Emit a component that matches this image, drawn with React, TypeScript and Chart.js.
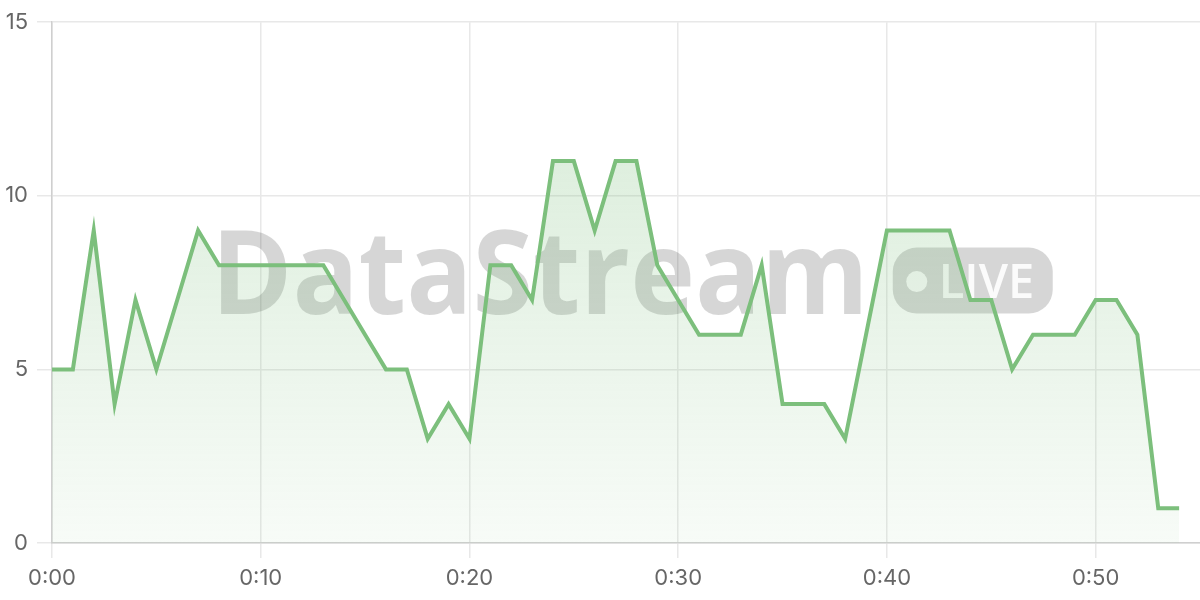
import React, { useEffect, useRef } from 'react';
import { Chart, registerables } from 'chart.js';
import type { Plugin } from 'chart.js';

Chart.register(...registerables);

// minutes since start (0:00 .. 0:54)
const minutes = [
  0, 1, 2, 3, 4, 5, 6, 7, 8, 9, 10, 11, 12, 13, 14, 15, 16, 17, 18, 19, 20,
  21, 22, 23, 24, 25, 26, 27, 28, 29, 30, 31, 32, 33, 34, 35, 36, 37, 38, 39,
  40, 41, 42, 43, 44, 45, 46, 47, 48, 49, 50, 51, 52, 53, 54,
];
const values = [
  5, 5, 9, 4, 7, 5, 7, 9, 8, 8, 8, 8, 8, 8, 7, 6, 5, 5, 3, 4, 3,
  8, 8, 7, 11, 11, 9, 11, 11, 8, 7, 6, 6, 6, 8, 4, 4, 4, 3, 6,
  9, 9, 9, 9, 7, 7, 5, 6, 6, 6, 7, 7, 6, 1, 1,
];
const yTicks = [0, 5, 10, 15];
const xTickMinutes = [0, 10, 20, 30, 40, 50];

const LINE = '#7cbf7c';
const TICK_FONT = { family: 'Inter, "Noto Sans", sans-serif', size: 22 };

const fmt = (m: number) => `0:${String(m).padStart(2, '0')}`;

// watermark drawn behind the line and fill
const watermark: Plugin<'line'> = {
  id: 'watermark',
  beforeDatasetsDraw(chart) {
    const { ctx, chartArea } = chart;
    const cx = (chartArea.left + chartArea.right) / 2 + 6;
    const baseline = (chartArea.top + chartArea.bottom) / 2 + 31;
    const squeeze = 0.945;
    ctx.save();
    ctx.font = 'bold 116px "Open Sans", sans-serif';
    const textW = ctx.measureText('DataStream').width * squeeze;
    const gap = 24;
    const badgeW = 160;
    const badgeH = 66;
    const left = cx - (textW + gap + badgeW) / 2;
    ctx.fillStyle = 'rgba(0,0,0,0.16)';
    ctx.textBaseline = 'alphabetic';
    ctx.textAlign = 'left';
    ctx.save();
    ctx.translate(left, baseline);
    ctx.scale(squeeze, 1);
    ctx.fillText('DataStream', 0, 0);
    ctx.restore();

    const bx = left + textW + gap;
    const by = baseline - badgeH;
    ctx.beginPath();
    ctx.roundRect(bx, by, badgeW, badgeH, 24);
    ctx.fill();

    ctx.fillStyle = 'rgba(255,255,255,0.9)';
    ctx.beginPath();
    ctx.arc(bx + 24, by + badgeH / 2 + 1, 10.5, 0, Math.PI * 2);
    ctx.fill();
    ctx.font = '600 47px "Open Sans", sans-serif';
    ctx.fillText('LIVE', bx + 46, baseline - 16);
    ctx.restore();
  },
};

const App: React.FC = () => {
  const canvasRef = useRef<HTMLCanvasElement | null>(null);

  useEffect(() => {
    if (!canvasRef.current) return;
    const ctx = canvasRef.current.getContext('2d');
    if (!ctx) return;

    const chart = new Chart(ctx, {
      type: 'line',
      data: {
        datasets: [
          {
            data: minutes.map((m, i) => ({ x: m, y: values[i] })),
            borderColor: LINE,
            borderWidth: 4,
            pointRadius: 0,
            tension: 0,
            fill: 'origin',
            backgroundColor: (c) => {
              const area = c.chart.chartArea;
              if (!area) return 'rgba(125,191,125,0.15)';
              const g = c.chart.ctx.createLinearGradient(0, area.top, 0, area.bottom);
              g.addColorStop(0, 'rgba(125,191,125,0.32)');
              g.addColorStop(1, 'rgba(125,191,125,0.06)');
              return g;
            },
          },
        ],
      },
      options: {
        animation: false,
        responsive: true,
        maintainAspectRatio: false,
        layout: { padding: { top: 20, right: 0, left: 0, bottom: 0 } },
        plugins: {
          legend: { display: false },
          tooltip: { enabled: false },
        },
        scales: {
          x: {
            type: 'linear',
            min: 0,
            max: 55,
            afterFit: (scale) => {
              scale.height = 57;
            },
            afterBuildTicks: (scale) => {
              scale.ticks = xTickMinutes.map((v) => ({ value: v }));
            },
            ticks: {
              includeBounds: false,
              font: TICK_FONT,
              color: '#666',
              padding: 7,
              maxRotation: 0,
              callback: (v) => fmt(Number(v)),
            },
            grid: { color: '#e8e8e8', tickLength: 15, lineWidth: 1.5 },
            border: { color: '#cfcfcf', width: 1.5 },
          },
          y: {
            min: 0,
            max: 15,
            afterFit: (scale) => {
              scale.width = 52;
            },
            afterBuildTicks: (scale) => {
              scale.ticks = yTicks.map((v) => ({ value: v }));
            },
            ticks: {
              font: TICK_FONT,
              color: '#666',
              padding: 9,
            },
            grid: { color: '#e8e8e8', tickLength: 15, lineWidth: 1.5 },
            border: { color: '#cfcfcf', width: 1.5 },
          },
        },
      },
      plugins: [watermark],
    });

    return () => {
      chart.destroy();
    };
  }, []);

  return (
    <div style={{ position: 'absolute', left: 0, top: 0, width: 1200, height: 600, background: '#fff' }}>
      <canvas ref={canvasRef} />
    </div>
  );
};

export default App;
